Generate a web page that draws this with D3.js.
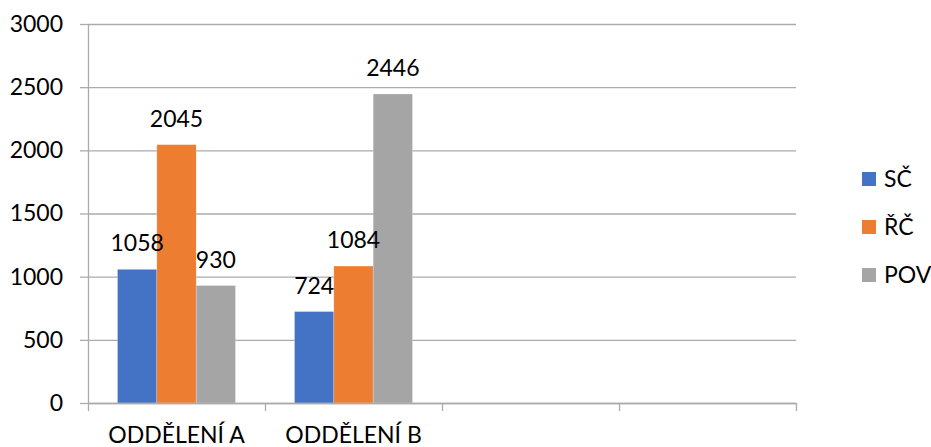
<!DOCTYPE html>
<html>
<head>
<meta charset="utf-8">
<script src="https://cdn.jsdelivr.net/npm/d3@7"></script>
<style>
  body { margin: 0; background: #fff; }
  svg text { font-family: Lato, "Open Sans", sans-serif; fill: #000; }
</style>
</head>
<body>
<div class="chart"></div>
<script>
const width = 931;
const height = 447;

// data
const tickLabels = ["ODDĚLENÍ A", "ODDĚLENÍ B", "", ""];
const seriesNames = ["SČ", "ŘČ", "POV"];
const sc = [1058, 724];
const rc = [2045, 1084];
const pov = [930, 2446];
const yTicks = [0, 500, 1000, 1500, 2000, 2500, 3000];
const colors = ["#4472C4", "#ED7D31", "#A5A5A5"];

const values = [sc, rc, pov];
const plot = {left: 88, right: 796, top: 24, bottom: 403};
const fs = "23px";

const svg = d3.select(".chart").append("svg")
  .attr("width", width)
  .attr("height", height);

const x = d3.scaleBand()
  .domain(d3.range(tickLabels.length))
  .range([plot.left, plot.right]);

const xSub = d3.scaleBand()
  .domain(seriesNames)
  .range([0, x.bandwidth()])
  .paddingInner(0)
  .paddingOuter(0.75);

const y = d3.scaleLinear()
  .domain([0, 3000])
  .range([plot.bottom, plot.top]);

const color = d3.scaleOrdinal().domain(seriesNames).range(colors);

// gridlines
svg.append("g")
  .attr("transform", `translate(${plot.left},0)`)
  .call(d3.axisLeft(y).tickValues(yTicks).tickSize(-(plot.right - plot.left)).tickFormat(""))
  .call(g => g.select(".domain").remove())
  .selectAll("line").attr("stroke", "#ababab").attr("stroke-width", 1.3);

// y axis
svg.append("g")
  .attr("transform", `translate(${plot.left},0)`)
  .call(d3.axisLeft(y).tickValues(yTicks).tickFormat(d3.format("d")).tickSize(8).tickSizeOuter(0).tickPadding(17))
  .call(g => g.select(".domain").attr("stroke", "#ababab").attr("stroke-width", 1.3))
  .call(g => g.selectAll("line").attr("stroke", "#ababab").attr("stroke-width", 1.3))
  .selectAll("text").style("font-size", fs);

// bars
const rows = [];
tickLabels.forEach((c, i) => {
  seriesNames.forEach((s, j) => {
    if (values[j][i] !== undefined) rows.push({cat: i, series: s, value: values[j][i]});
  });
});

svg.append("g").selectAll("rect")
  .data(rows)
  .join("rect")
  .attr("x", d => x(d.cat) + xSub(d.series))
  .attr("y", d => y(d.value))
  .attr("width", xSub.bandwidth())
  .attr("height", d => y(0) - y(d.value))
  .attr("fill", d => color(d.series))
  .attr("stroke", "#fff")
  .attr("stroke-opacity", 0.4)
  .attr("stroke-width", 0.6);

svg.append("g").selectAll("text")
  .data(rows)
  .join("text")
  .attr("x", d => x(d.cat) + xSub(d.series) + xSub.bandwidth() / 2)
  .attr("y", d => y(d.value) - 18)
  .attr("text-anchor", "middle")
  .style("font-size", fs)
  .text(d => d.value);

// x axis: boundary ticks
const xEdge = d3.scaleLinear().domain([0, tickLabels.length]).range([plot.left, plot.right]);
svg.append("g")
  .attr("transform", `translate(0,${plot.bottom})`)
  .call(d3.axisBottom(xEdge).tickValues(d3.range(tickLabels.length + 1)).tickSize(8).tickSizeOuter(0).tickFormat(""))
  .call(g => g.select(".domain").attr("stroke", "#ababab").attr("stroke-width", 1.3))
  .selectAll("line").attr("stroke", "#ababab").attr("stroke-width", 1.3);

// x axis labels
svg.append("g")
  .attr("transform", `translate(0,${plot.bottom})`)
  .call(d3.axisBottom(x).tickSize(0).tickFormat(i => tickLabels[i]))
  .call(g => g.select(".domain").remove())
  .selectAll("text")
  .attr("y", 40)
  .attr("dy", 0)
  .style("font-size", fs);

// legend
const legend = svg.append("g").attr("transform", "translate(862,172)");
const item = legend.selectAll("g")
  .data(seriesNames)
  .join("g")
  .attr("transform", (d, i) => `translate(0,${i * 48})`);
item.append("rect")
  .attr("width", 14)
  .attr("height", 14)
  .attr("fill", d => color(d));
item.append("text")
  .attr("x", 22)
  .attr("y", 15)
  .style("font-size", fs)
  .text(d => d);
</script>
</body>
</html>
